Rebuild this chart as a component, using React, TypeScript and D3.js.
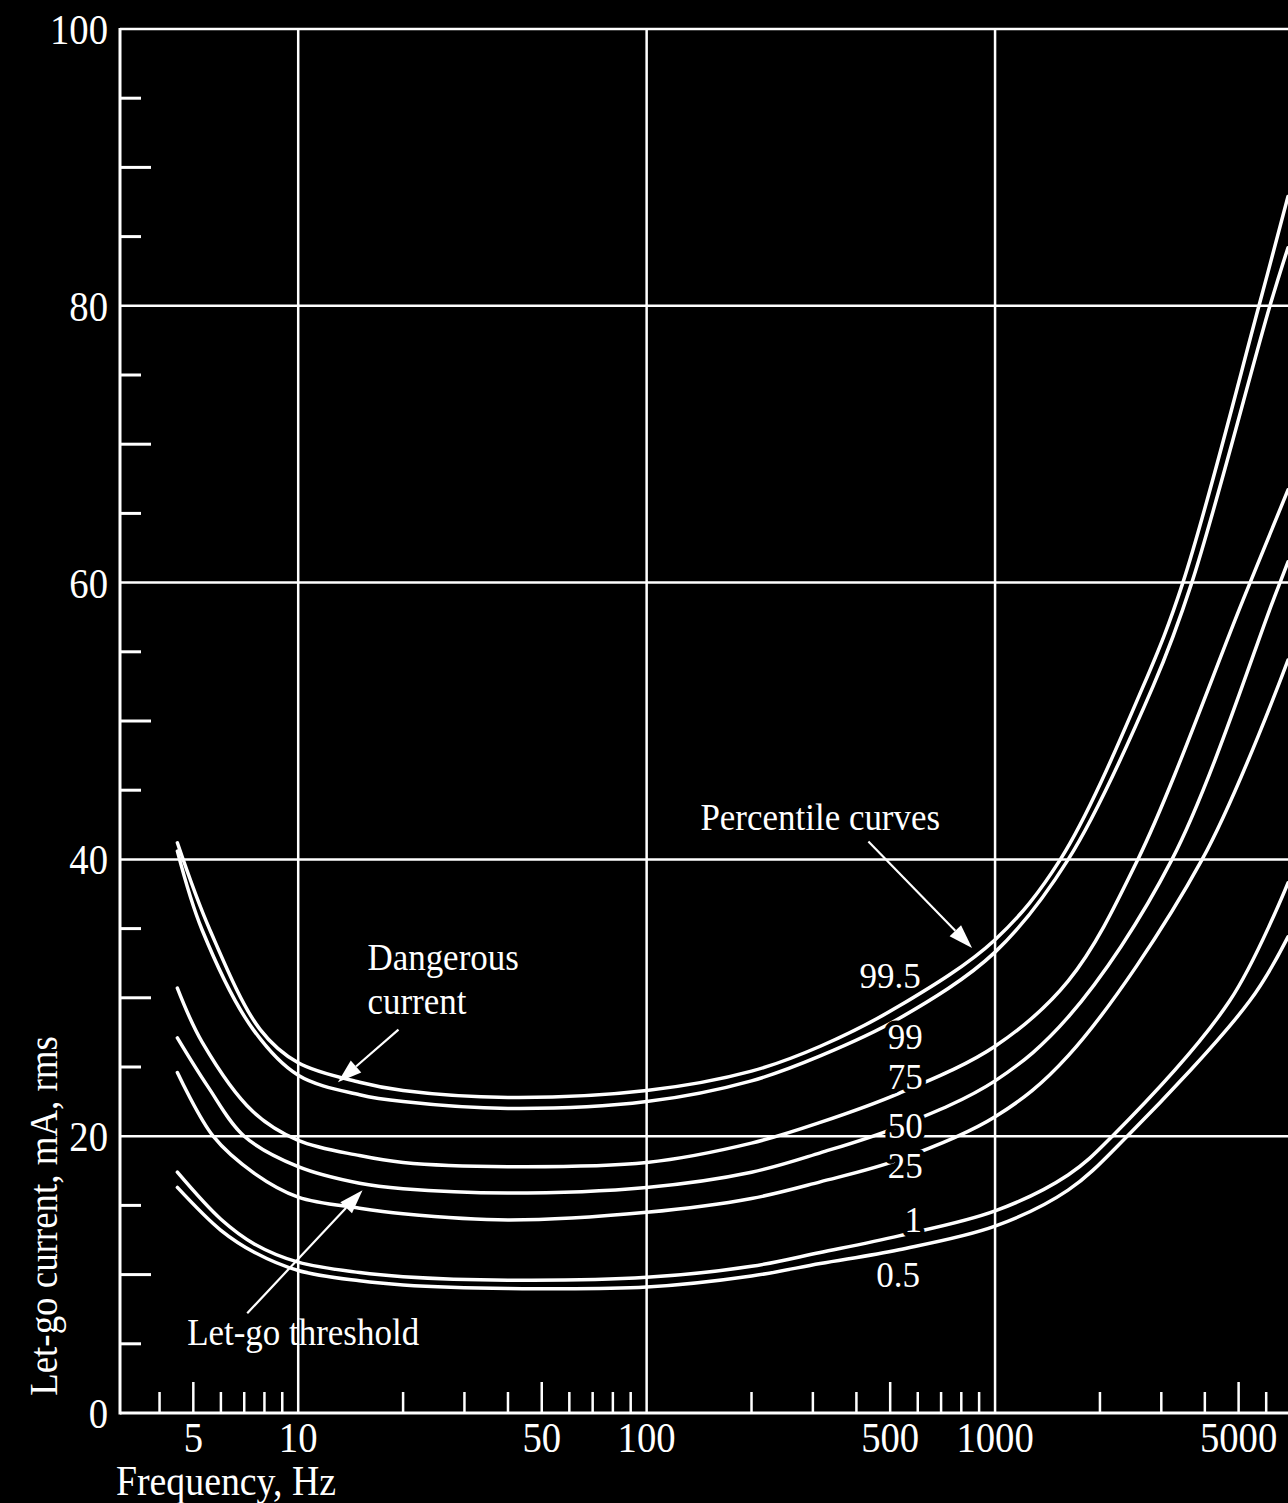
import { useEffect, useRef } from 'react';
import * as d3 from 'd3';

const W = 1288;
const H = 1503;

// axis ticks
const yGrid = [20, 40, 60, 80, 100];
const yLabels = [0, 20, 40, 60, 80, 100];
const yMinor = [5, 10, 15, 25, 30, 35, 45, 50, 55, 65, 70, 75, 85, 90, 95];
const xGrid = [10, 100, 1000];
const xLabels = [5, 10, 50, 100, 500, 1000, 5000];
const xMid = [5, 50, 500, 5000];
const xMinor = [4, 6, 7, 8, 9, 20, 30, 40, 60, 70, 80, 90, 200, 300, 400, 600, 700, 800, 900, 2000, 3000, 4000, 6000];

// percentile curves: [frequency Hz, let-go current mA]
const p995 = [[4.5, 41.2], [5.58, 34.9], [7.78, 27.7], [10, 25.3], [15, 23.9], [20, 23.3], [40, 22.8], [100, 23.3], [200, 24.7], [315, 26.5], [530, 29.4], [1000, 34.2], [1540, 40], [2660, 52.5], [3460, 60], [5720, 80], [6930, 87.9]];
const p99 = [[4.5, 40.6], [5.3, 34.9], [7.43, 27.7], [10, 24.4], [15, 23.0], [20, 22.5], [40, 22.0], [100, 22.5], [200, 24.0], [315, 25.8], [530, 28.5], [1000, 33.3], [1622, 40], [2840, 52.5], [3670, 60], [6150, 80], [6930, 84.2]];
const p75 = [[4.5, 30.7], [5.3, 26.8], [7.4, 21.8], [10, 19.7], [15, 18.6], [20, 18.1], [40, 17.8], [100, 18.1], [200, 19.5], [315, 21.0], [530, 23.1], [1000, 26.5], [1620, 31.2], [2570, 40], [5140, 58.7], [6930, 66.7]];
const p50 = [[4.5, 27.1], [5.5, 23.6], [7, 20], [10, 17.8], [15, 16.6], [20, 16.2], [40, 15.9], [100, 16.3], [200, 17.4], [315, 18.8], [530, 20.7], [1000, 24.0], [1620, 28.6], [3220, 40], [6280, 58.7], [6930, 61.5]];
const p25 = [[4.5, 24.6], [5.7, 20], [7.5, 17.3], [10, 15.6], [15, 14.8], [20, 14.4], [40, 13.95], [100, 14.5], [200, 15.5], [315, 16.7], [530, 18.3], [1000, 21.4], [1620, 25.8], [3930, 40], [6930, 54.4]];
const p1 = [[4.5, 17.4], [6, 14.0], [7.5, 12.2], [10, 10.9], [15, 10.15], [20, 9.85], [40, 9.6], [100, 9.8], [200, 10.6], [315, 11.6], [530, 12.8], [1000, 14.6], [1620, 17.2], [2170, 20], [4720, 29.8], [6930, 38.3]];
const p05 = [[4.5, 16.3], [6, 13.2], [7.5, 11.6], [10, 10.3], [15, 9.55], [20, 9.25], [40, 9.0], [100, 9.1], [200, 9.9], [315, 10.8], [530, 11.8], [1000, 13.5], [1620, 16.1], [2395, 20], [5390, 29.8], [6930, 34.4]];

// curve labels placed in data units [freq, mA, text]
const curveLabels = [[500, 30.7, '99.5'], [552, 26.3, '99'], [552, 23.4, '75'], [552, 19.9, '50'], [552, 17.0, '25'], [582, 13.1, '1'], [527, 9.1, '0.5']];

// annotations
const notes = [
  { f: 315, v: 42.1, text: 'Percentile curves', anchor: 'middle' },
  { f: 15.8, v: 32.0, text: 'Dangerous', anchor: 'start' },
  { f: 15.8, v: 28.8, text: 'current', anchor: 'start' },
  { f: 4.8, v: 4.9, text: 'Let-go threshold', anchor: 'start' },
];
const arrows = [
  { from: [433, 41.3], to: [859, 33.6] },
  { from: [19.4, 27.7], to: [13.0, 23.9] },
  { from: [7.14, 7.2], to: [15.3, 16.1] },
];

const FONT = '"Liberation Serif", "DejaVu Serif", serif';

function App() {
  const ref = useRef(null);

  useEffect(() => {
    document.body.style.margin = '0';
    document.body.style.background = '#000';

    const svg = d3.select(ref.current);
    svg.selectAll('*').remove();

    svg.append('rect').attr('width', W).attr('height', H).attr('fill', '#000');

    const x = d3.scaleLog().domain([3.08, 6930]).range([120, W]);
    const y = d3.scaleLinear().domain([0, 100]).range([1413, 29]);
    const left = x.range()[0];
    const y0 = y(0);
    const yTop = y(100);

    const g = svg.append('g').attr('stroke', '#fff').attr('fill', 'none');

    // grid
    g.selectAll('.hgrid').data(yGrid).join('line')
      .attr('x1', left).attr('x2', W)
      .attr('y1', d => y(d)).attr('y2', d => y(d))
      .attr('stroke-width', 2.5);
    g.selectAll('.vgrid').data(xGrid).join('line')
      .attr('x1', d => x(d)).attr('x2', d => x(d))
      .attr('y1', y0).attr('y2', yTop)
      .attr('stroke-width', 2.5);

    // axes
    g.append('line').attr('x1', left).attr('x2', left).attr('y1', yTop - 1).attr('y2', y0 + 1.5).attr('stroke-width', 3);
    g.append('line').attr('x1', left).attr('x2', W).attr('y1', y0).attr('y2', y0).attr('stroke-width', 3);

    // y minor ticks
    g.selectAll('.ytick').data(yMinor).join('line')
      .attr('x1', left).attr('x2', d => left + (d % 10 === 0 ? 31 : 21))
      .attr('y1', d => y(d)).attr('y2', d => y(d))
      .attr('stroke-width', 3);

    // x ticks
    g.selectAll('.xtick').data([...xMinor, ...xMid]).join('line')
      .attr('x1', d => x(d)).attr('x2', d => x(d))
      .attr('y1', y0).attr('y2', d => y0 - (xMid.includes(d) ? 31 : 21))
      .attr('stroke-width', 2.5);

    const txt = (sel, px, py, s, size, anchor, sx = 0.9, halo = 0) => {
      const t = sel.append('text')
        .attr('transform', `translate(${px},${py}) scale(${sx},1)`)
        .attr('text-anchor', anchor)
        .attr('font-family', FONT)
        .attr('font-size', size)
        .attr('fill', '#fff')
        .text(s);
      if (halo) {
        t.attr('stroke', '#000').attr('stroke-width', halo).attr('paint-order', 'stroke').attr('stroke-linejoin', 'round');
      }
      return t;
    };

    // tick labels
    const labels = svg.append('g');
    yLabels.forEach(v => txt(labels, left - 12, y(v) + 15, String(v), 43, 'end'));
    xLabels.forEach(v => txt(labels, x(v), y0 + 39, String(v), 43, 'middle'));

    // axis titles
    txt(labels, 116, 1495, 'Frequency, Hz', 42, 'start', 0.9);
    labels.append('text')
      .attr('transform', 'translate(57,1216) rotate(-90) scale(0.9,1)')
      .attr('text-anchor', 'middle')
      .attr('font-family', FONT)
      .attr('font-size', 41)
      .attr('fill', '#fff')
      .text('Let-go current, mA, rms');

    // curves
    svg.append('clipPath').attr('id', 'plotclip')
      .append('rect').attr('x', left).attr('y', yTop).attr('width', W - left).attr('height', y0 - yTop);

    const line = d3.line()
      .x(d => x(d[0]))
      .y(d => y(d[1]))
      .curve(d3.curveCatmullRom.alpha(0.5));

    svg.append('g').attr('clip-path', 'url(#plotclip)')
      .selectAll('path').data([p995, p99, p75, p50, p25, p1, p05]).join('path')
      .attr('d', line)
      .attr('fill', 'none')
      .attr('stroke', '#fff')
      .attr('stroke-width', 3.5)
      .attr('stroke-linecap', 'round');

    // curve labels with black halo to cut the lines
    const cl = svg.append('g');
    curveLabels.forEach(([f, v, s]) => txt(cl, x(f), y(v), s, 35, 'middle', 1, 9));

    // annotations
    notes.forEach(n => txt(cl, x(n.f), y(n.v), n.text, 38, n.anchor, 0.92, 0));

    // arrows
    const ag = svg.append('g');
    arrows.forEach(a => {
      const x1 = x(a.from[0]), y1 = y(a.from[1]);
      const x2 = x(a.to[0]), y2 = y(a.to[1]);
      const dx = x2 - x1, dy = y2 - y1;
      const len = Math.hypot(dx, dy);
      const ux = dx / len, uy = dy / len;
      const hl = 24, hw = 8;
      const bx = x2 - ux * hl, by = y2 - uy * hl;
      ag.append('line')
        .attr('x1', x1).attr('y1', y1).attr('x2', bx).attr('y2', by)
        .attr('stroke', '#fff').attr('stroke-width', 2.2);
      ag.append('path')
        .attr('d', `M${x2},${y2}L${bx - uy * hw},${by + ux * hw}L${bx + uy * hw},${by - ux * hw}Z`)
        .attr('fill', '#fff');
    });
  }, []);

  return (
    <svg ref={ref} width={W} height={H} style={{ display: 'block', position: 'absolute', left: 0, top: 0 }} />
  );
}

export default App;
